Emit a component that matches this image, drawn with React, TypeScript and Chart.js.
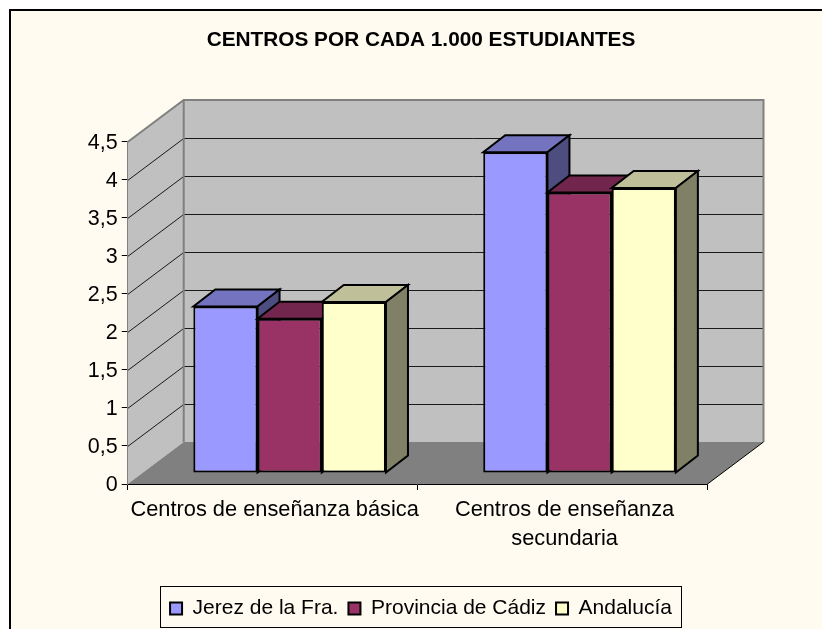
import React, { useEffect, useRef } from "react";
import { Chart, registerables } from "chart.js";

Chart.register(...registerables);

const categories = [["Centros de enseñanza básica"], ["Centros de enseñanza", "secundaria"]];
const jerez = [2.19, 4.22];
const provincia = [2.03, 3.69];
const andalucia = [2.25, 3.75];
const seriesNames = ["Jerez de la Fra.", "Provincia de Cádiz", "Andalucía"];
const frontColors = ["#9999FF", "#993366", "#FFFFCC"];
const topColors = ["#7373BF", "#73264D", "#BFBF99"];
const sideColors = ["#4D4D80", "#4D1A33", "#808066"];
const FONT = "'Liberation Sans', Arial, sans-serif";
const CREAM = "#FFFBF0";
const WALL_DX = 56;
const WALL_DY = -42;
const BAR_SHIFT_X = 17;
const BAR_SHIFT_Y = -11;
const BAR_DEPTH_X = 22;
const BAR_DEPTH_Y = -17;

function poly(ctx: any, pts: number[][], fill?: string, stroke?: string, lw = 1) {
  ctx.beginPath();
  pts.forEach((p, i) => (i ? ctx.lineTo(p[0], p[1]) : ctx.moveTo(p[0], p[1])));
  ctx.closePath();
  if (fill) { ctx.fillStyle = fill; ctx.fill(); }
  if (stroke) { ctx.strokeStyle = stroke; ctx.lineWidth = lw; ctx.stroke(); }
}

const scene3d = {
  id: "scene3d",
  beforeDraw(chart: any) {
    const { ctx, chartArea: a, scales } = chart;
    const y = scales.y;
    ctx.save();
    ctx.fillStyle = "#FFFFFF";
    ctx.fillRect(0, 0, chart.width, chart.height);
    ctx.fillStyle = CREAM;
    ctx.fillRect(9, 10, chart.width - 9, chart.height - 10);
    ctx.fillStyle = "#000";
    ctx.fillRect(9, 9, chart.width - 9, 2);
    ctx.fillRect(9, 9, 2, chart.height - 9);

    const t = a.top, b = a.bottom, l = a.left, r = a.right;
    const dx = WALL_DX, dy = WALL_DY;
    poly(ctx, [[l + dx, t + dy], [r + dx, t + dy], [r + dx, b + dy], [l + dx, b + dy]], "#C0C0C0");
    poly(ctx, [[l, t], [l + dx, t + dy], [l + dx, b + dy], [l, b]], "#C0C0C0");
    poly(ctx, [[l, b], [r, b], [r + dx, b + dy], [l + dx, b + dy]], "#808080");
    ctx.strokeStyle = "#1a1a1a";
    ctx.lineWidth = 1;
    y.ticks.forEach((tk: any) => {
      if (tk.value === 0 || tk.value === y.max) return;
      const py = Math.round(y.getPixelForValue(tk.value)) + 0.5;
      ctx.beginPath();
      ctx.moveTo(l, py);
      ctx.lineTo(l + dx, py + dy);
      ctx.lineTo(r + dx, py + dy);
      ctx.stroke();
    });
    ctx.strokeStyle = "#808080";
    ctx.lineWidth = 2;
    ctx.beginPath();
    ctx.moveTo(l, t);
    ctx.lineTo(l + dx, t + dy);
    ctx.lineTo(r + dx, t + dy);
    ctx.lineTo(r + dx, b + dy);
    ctx.moveTo(l + dx, t + dy);
    ctx.lineTo(l + dx, b + dy);
    ctx.stroke();
    ctx.strokeStyle = "#000";
    ctx.lineWidth = 1;
    ctx.beginPath();
    ctx.moveTo(r, b);
    ctx.lineTo(r + dx, b + dy);
    ctx.stroke();
    ctx.restore();
  },
  beforeDatasetsDraw(chart: any) {
    const { ctx } = chart;
    ctx.save();
    ctx.translate(BAR_SHIFT_X, BAR_SHIFT_Y);
    ctx.lineJoin = "miter";
    [0, 1, 2].forEach((ds) => {
      const meta = chart.getDatasetMeta(ds);
      meta.data.forEach((el: any) => {
        const { x, y, width, base } = el.getProps(["x", "y", "width", "base"], true);
        const x0 = x - width / 2, x1 = x + width / 2;
        const ddx = BAR_DEPTH_X, ddy = BAR_DEPTH_Y;
        poly(ctx, [[x0, y], [x1, y], [x1 + ddx, y + ddy], [x0 + ddx, y + ddy]], topColors[ds], "#000", 2);
        poly(ctx, [[x1, y], [x1 + ddx, y + ddy], [x1 + ddx, base + ddy], [x1, base]], sideColors[ds], "#000", 2);
        el.draw(ctx);
      });
    });
    ctx.restore();
    return false;
  },
  afterDraw(chart: any) {
    const hits = chart.legend.legendHitBoxes;
    if (!hits.length) return;
    const { ctx } = chart;
    const first = hits[0], last = hits[hits.length - 1];
    ctx.save();
    ctx.strokeStyle = "#000";
    ctx.lineWidth = 1;
    const x0 = Math.round(first.left - 10) + 0.5;
    const x1 = Math.round(last.left + last.width + 9) + 0.5;
    ctx.strokeRect(x0, 586.5, x1 - x0, 41);
    ctx.restore();
  },
};

export default function App() {
  const ref = useRef<HTMLCanvasElement>(null);
  useEffect(() => {
    const chart = new Chart(ref.current as HTMLCanvasElement, {
      type: "bar",
      plugins: [scene3d as any],
      data: {
        labels: categories as any,
        datasets: [jerez, provincia, andalucia].map((d, i) => ({
          label: seriesNames[i],
          data: d,
          backgroundColor: frontColors[i],
          borderColor: "#000000",
          borderWidth: 2,
          borderSkipped: false,
          categoryPercentage: 0.6645,
          barPercentage: 1,
        })),
      },
      options: {
        animation: false,
        responsive: false,
        events: [],
        layout: { padding: { left: 20, right: 0, top: 0, bottom: 0 } },
        plugins: {
          tooltip: { enabled: false },
          title: {
            display: true,
            text: "CENTROS POR CADA 1.000 ESTUDIANTES",
            color: "#000",
            font: { family: FONT, size: 20.8, weight: "bold", lineHeight: 1.2 },
            padding: { top: 27.5, bottom: 89.5 },
          },
          legend: {
            position: "bottom",
            labels: {
              color: "#000",
              font: { family: FONT, size: 21 },
              boxWidth: 12,
              boxHeight: 12,
              padding: 10,
            },
          },
        },
        scales: {
          x: {
            grid: { drawOnChartArea: false, drawTicks: true, tickLength: 6, tickColor: "#000", offset: true },
            border: { color: "#000", width: 1 },
            ticks: { color: "#000", font: { family: FONT, size: 21.8, lineHeight: 1.34 }, padding: 5, labelOffset: 2, maxRotation: 0, minRotation: 0, autoSkip: false },
            afterFit: (s: any) => { s.height = 104; },
          },
          y: {
            min: 0,
            max: 4.5,
            grid: { drawOnChartArea: false, drawTicks: true, tickLength: 6, tickColor: "#000" },
            border: { color: "#808080", width: 1 },
            ticks: {
              stepSize: 0.5,
              color: "#000",
              font: { family: FONT, size: 21.5 },
              padding: 4,
              labelOffset: 1.5,
              callback: (v: any) => String(v).replace(".", ","),
            },
            afterFit: (s: any) => { s.width = 107.7; },
          },
          yRightMargin: {
            position: "right",
            grid: { display: false },
            border: { display: false },
            ticks: { display: false },
            afterFit: (s: any) => { s.width = 114.5; },
          },
        },
      } as any,
    });
    return () => chart.destroy();
  }, []);
  return (
    <canvas
      ref={ref}
      width={822}
      height={629}
      style={{ position: "absolute", left: 0, top: 0, width: 822, height: 629, display: "block" }}
    />
  );
}
